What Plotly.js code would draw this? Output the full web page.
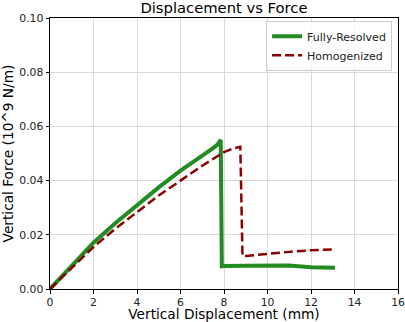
<!DOCTYPE html>
<html><head><meta charset="utf-8">
<script src="https://cdn.plot.ly/plotly-3.0.1.min.js"></script>
<style>html,body{margin:0;padding:0;background:#fff}#c{width:405px;height:322px}</style>
</head><body><div id="c"></div>
<script>
const resolvedX = [0, 1, 2, 3, 4, 5, 6, 7, 7.5, 7.7, 7.85, 7.9, 8, 9, 10, 11, 12, 13.1];
const resolvedY = [0, 0.0088, 0.0171, 0.0243, 0.0310, 0.0375, 0.0437, 0.0490, 0.0520, 0.0533, 0.0550, 0.0084, 0.0085, 0.0086, 0.0088, 0.0087, 0.0080, 0.0078];
const homogX = [0, 1, 2, 3, 4, 5, 6, 7, 8, 8.4, 8.75, 8.85, 9, 10, 11, 12, 13.1];
const homogY = [0, 0.0078, 0.0155, 0.0222, 0.0285, 0.0345, 0.0400, 0.0455, 0.0505, 0.0518, 0.0525, 0.0122, 0.0122, 0.0130, 0.0137, 0.0143, 0.0146];
const xTicks = [0, 2, 4, 6, 8, 10, 12, 14, 16];
const yTicks = [0, 0.02, 0.04, 0.06, 0.08, 0.10];

const font = {family: 'DejaVu Sans', color: '#000'};
const data = [
  {x: resolvedX, y: resolvedY, type: 'scatter', mode: 'lines', name: 'Fully-Resolved',
   line: {color: '#228B22', width: 4}},
  {x: homogX, y: homogY, type: 'scatter', mode: 'lines', name: 'Homogenized',
   line: {color: '#8B0000', width: 2.5, dash: '9px,4px'}}
];
const axisCommon = {
  showline: true, linecolor: '#000', linewidth: 1, mirror: true,
  ticks: 'outside', ticklen: 3.5, tickcolor: '#000', tickwidth: 1,
  showgrid: true, gridcolor: '#d9d9d9', gridwidth: 1, zeroline: false,
  tickfont: {family: 'DejaVu Sans', size: 10.8, color: '#222'}
};
const layout = {
  width: 405, height: 322,
  margin: {l: 50, r: 7, t: 18, b: 33},
  paper_bgcolor: '#fff', plot_bgcolor: '#fff',
  font: font,
  title: {text: 'Displacement vs Force', font: {family: 'DejaVu Sans', size: 14.75, color: '#000'},
          x: 0.553, xanchor: 'center', y: 0.992, yanchor: 'top'},
  xaxis: Object.assign({}, axisCommon, {
    range: [0, 16], tickvals: xTicks, ticktext: xTicks.map(String),
    title: {text: 'Vertical Displacement (mm)', font: {family: 'DejaVu Sans', size: 13.7, color: '#000'}, standoff: 4}
  }),
  yaxis: Object.assign({}, axisCommon, {
    range: [0, 0.10], tickvals: yTicks, ticktext: yTicks.map(v => v.toFixed(2)),
    title: {text: 'Vertical Force (10^9 N/m)', font: {family: 'DejaVu Sans', size: 13.7, color: '#000'}, standoff: 5}
  }),
  showlegend: true,
  legend: {x: 0.983, y: 0.99, xanchor: 'right', yanchor: 'top',
           bgcolor: 'rgba(255,255,255,0.8)', bordercolor: '#cccccc', borderwidth: 1,
           font: {family: 'DejaVu Sans', size: 11, color: '#222'}, itemwidth: 30}
};
Plotly.newPlot('c', data, layout, {displayModeBar: false, staticPlot: true});
</script></body></html>
